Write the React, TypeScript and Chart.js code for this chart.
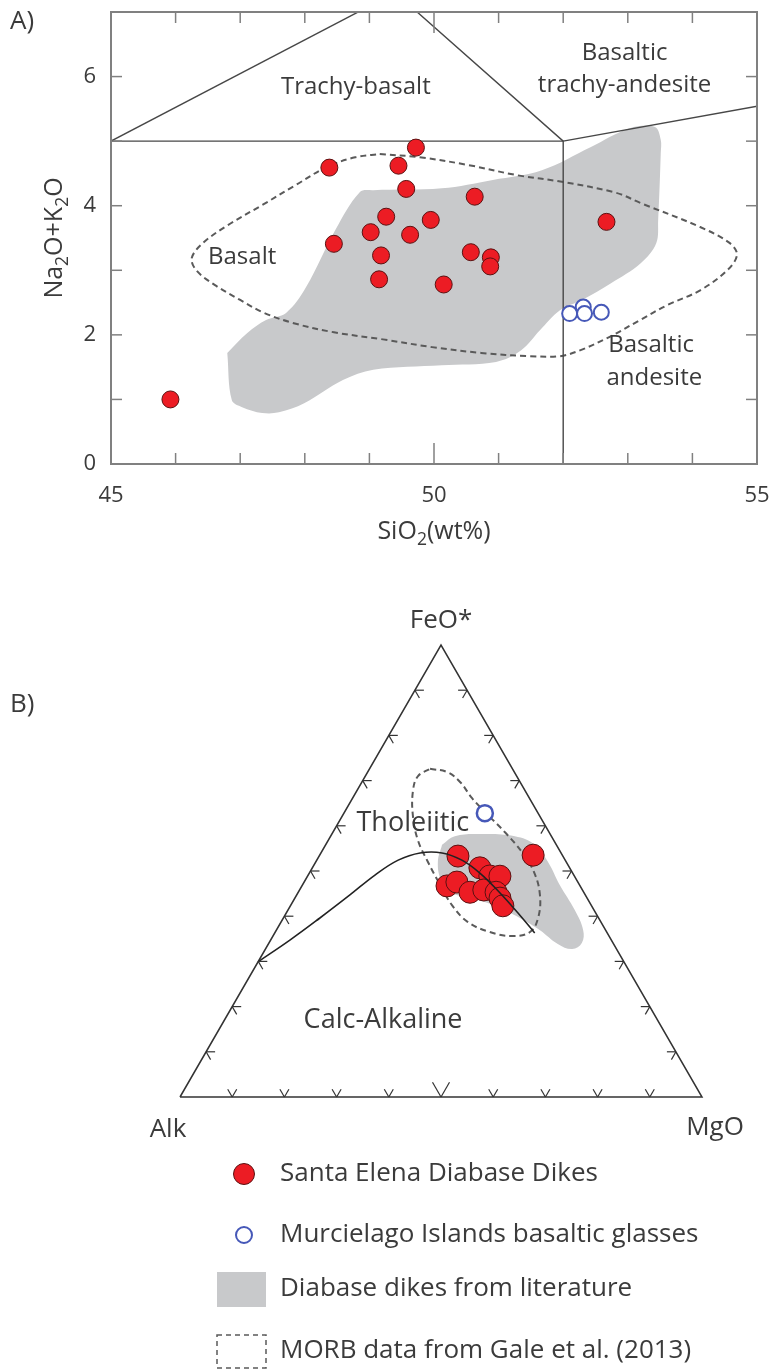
import { useEffect, useRef } from 'react';
import { Chart, registerables } from 'chart.js';

Chart.register(...registerables);

const FONT = '"Open Sans", "DejaVu Sans", Arial, sans-serif';
const INK = '#3b3b3b';
const FRAME = '#808080';
const LINE = '#474747';
const RED = '#ec1c24';
const RED_EDGE = '#5a1111';
const BLUE = '#4658b8';
const FIELD_GRAY = '#c8c9cb';
const DASH = '#5a5a5a';
const SQRT3_2 = Math.sqrt(3) / 2;

// ---------- A) TAS diagram ----------
const siO2Labels = [45, 50, 55];
const alkaliLabels = [0, 2, 4, 6];
const siO2TickMarks = [46, 47, 48, 49, 50, 51, 52, 53, 54];
const alkaliTickMarks = [1, 2, 3, 4, 5, 6];

const santaElenaSiO2 = [48.38, 49.72, 49.45, 49.57, 50.63, 49.26, 49.95, 49.02, 49.63, 48.45, 52.67, 50.57, 49.18, 50.88, 50.87, 49.15, 50.15, 45.92];
const santaElenaAlkali = [4.59, 4.9, 4.62, 4.26, 4.14, 3.83, 3.78, 3.59, 3.55, 3.41, 3.75, 3.28, 3.23, 3.2, 3.06, 2.86, 2.78, 1.0];

const murcielagoSiO2 = [52.1, 52.31, 52.33, 52.59];
const murcielagoAlkali = [2.33, 2.43, 2.33, 2.35];

const literatureSiO2 = [46.8, 46.87, 47.03, 47.34, 47.6, 47.99, 48.59, 49.06, 50.12, 50.96, 51.35, 51.64, 51.95, 52.29, 52.74, 53.2, 53.44, 53.47, 53.51, 53.51, 53.42, 53.03, 52.43, 51.67, 50.91, 50.12, 49.06, 48.85, 48.47, 48.02, 47.71, 47.4, 47.11];
const literatureAlkali = [1.72, 0.99, 0.88, 0.79, 0.8, 0.94, 1.3, 1.46, 1.53, 1.58, 1.76, 2.07, 2.38, 2.54, 2.8, 3.11, 3.42, 3.78, 4.81, 5.02, 5.22, 5.2, 4.91, 4.55, 4.4, 4.27, 4.24, 4.21, 3.62, 2.74, 2.34, 2.23, 2.03];

const morbSiO2 = [49.16, 49.78, 50.53, 51.3, 51.98, 52.82, 53.2, 54.12, 54.58, 54.69, 54.54, 54.12, 53.61, 53.19, 52.72, 52.26, 51.95, 51.49, 50.73, 49.97, 49.21, 48.45, 47.83, 47.37, 47.0, 46.61, 46.32, 46.25, 46.42, 46.81, 47.34, 47.86, 48.34, 48.78];
const morbAlkali = [4.8, 4.75, 4.63, 4.47, 4.37, 4.2, 4.04, 3.67, 3.42, 3.24, 3.0, 2.69, 2.46, 2.23, 1.97, 1.76, 1.67, 1.67, 1.72, 1.81, 1.93, 2.04, 2.18, 2.34, 2.54, 2.77, 3.0, 3.19, 3.42, 3.7, 4.01, 4.32, 4.6, 4.75];

const tasBoundaries = [
  { siO2: [45, 49.4], alkali: [5, 7.3] },
  { siO2: [49.4, 52, 52], alkali: [7.3, 5, 0] },
  { siO2: [45, 52], alkali: [5, 5] },
  { siO2: [52, 57], alkali: [5, 5.9] },
];

const tasFieldNames = [
  { text: 'Trachy-basalt', siO2: 48.79, alkali: 5.84 },
  { text: 'Basaltic', siO2: 52.95, alkali: 6.36 },
  { text: 'trachy-andesite', siO2: 52.95, alkali: 5.87 },
  { text: 'Basalt', siO2: 47.03, alkali: 3.2 },
  { text: 'Basaltic', siO2: 53.36, alkali: 1.84 },
  { text: 'andesite', siO2: 53.41, alkali: 1.33 },
];

// ---------- B) AFM ternary (Alk, FeO*, MgO) ----------
const afmSantaElenaAlk = [20.1, 5.6, 17.2, 16.2, 14.3, 25.5, 23.2, 21.8, 18.9, 16.8, 16.7, 17.0];
const afmSantaElenaFeO = [53.3, 53.5, 50.7, 48.9, 48.9, 46.7, 47.6, 45.3, 45.8, 45.3, 44.0, 42.3];
const afmSantaElenaMgO = [26.6, 40.9, 32.1, 34.9, 36.9, 27.8, 29.3, 32.9, 35.3, 37.9, 39.3, 40.7];

const afmMurcielagoAlk = [10.2];
const afmMurcielagoFeO = [62.8];
const afmMurcielagoMgO = [27.0];

const afmLiteratureAlk = [21.9, 18.5, 13.4, 7.0, 4.1, 3.5, 3.8, 3.7, 4.3, 6.0, 8.5, 10.7, 12.6, 15.1, 18.5, 22.4, 25.6, 26.0, 24.6];
const afmLiteratureFeO = [55.8, 57.7, 58.2, 57.7, 55.8, 52.0, 46.9, 41.4, 36.9, 34.1, 32.7, 33.9, 36.9, 39.6, 42.3, 44.0, 45.3, 48.0, 52.0];
const afmLiteratureMgO = [22.3, 23.8, 28.4, 35.3, 40.1, 44.5, 49.4, 55.0, 58.7, 60.0, 58.7, 55.5, 50.5, 45.3, 39.2, 33.6, 29.1, 26.0, 23.4];

const afmMorbAlk = [15.8, 12.9, 11.5, 11.0, 9.8, 8.4, 7.4, 7.3, 8.7, 11.6, 14.7, 18.6, 22.4, 25.5, 26.7, 26.7, 26.5, 26.0, 24.2, 21.4, 18.9];
const afmMorbFeO = [72.6, 71.9, 69.7, 66.1, 62.4, 58.4, 54.2, 49.8, 44.7, 39.6, 36.5, 35.6, 36.5, 38.7, 42.5, 46.9, 52.0, 56.9, 62.4, 67.9, 71.0];
const afmMorbMgO = [11.6, 15.2, 18.8, 22.9, 27.8, 33.3, 38.4, 42.9, 46.6, 48.8, 48.8, 45.8, 41.1, 35.8, 30.9, 26.4, 21.5, 17.1, 13.4, 10.7, 10.1];

// Irvine & Baragar tholeiitic / calc-alkaline divide
const divideAlk = [70.1, 61.6, 53.4, 45.1, 38.1, 32.0, 27.0, 22.8, 19.8, 17.8, 16.1, 14.9, 13.9];
const divideFeO = [29.9, 34.7, 39.6, 44.7, 49.1, 52.4, 54.0, 54.0, 52.4, 49.6, 45.1, 40.7, 36.3];
const divideMgO = [0.0, 3.7, 7.0, 10.2, 12.8, 15.6, 19.0, 23.2, 27.8, 32.7, 38.7, 44.4, 49.8];

const ternaryTicks = [10, 20, 30, 40, 50, 60, 70, 80, 90];

const afmFieldNames = [
  { text: 'Tholeiitic', alk: 25.1, feo: 60.6, mgo: 14.3 },
  { text: 'Calc-Alkaline', alk: 52.6, feo: 17.0, mgo: 30.4 },
];

const legendEntries = [
  'Santa Elena Diabase Dikes',
  'Murcielago Islands basaltic glasses',
  'Diabase dikes from literature',
  'MORB data from Gale et al. (2013)',
];

// ---------- helpers ----------
const pairs = (xs: number[], ys: number[]) => xs.map((x, i) => ({ x, y: ys[i] }));
const closeRing = <T,>(pts: T[]) => [...pts, pts[0]];

function ternaryPoint(a: number, f: number, m: number) {
  const s = a + f + m;
  return { x: (m + f / 2) / s, y: (f / s) * SQRT3_2 };
}
const ternarySeries = (A: number[], F: number[], M: number[]) => A.map((a, i) => ternaryPoint(a, F[i], M[i]));

type Part = [string, boolean];
function drawRich(ctx: CanvasRenderingContext2D, parts: Part[], x: number, y: number, size: number) {
  const sub = size * 0.7;
  const widths = parts.map(([t, s]) => {
    ctx.font = `${s ? sub : size}px ${FONT}`;
    return ctx.measureText(t).width;
  });
  const total = widths.reduce((p, w) => p + w, 0);
  let cx = x - total / 2;
  ctx.textAlign = 'left';
  ctx.textBaseline = 'alphabetic';
  parts.forEach(([t, s], i) => {
    ctx.font = `${s ? sub : size}px ${FONT}`;
    ctx.fillText(t, cx, s ? y + size * 0.24 : y);
    cx += widths[i];
  });
}

function seg(ctx: CanvasRenderingContext2D, x1: number, y1: number, x2: number, y2: number) {
  ctx.beginPath();
  ctx.moveTo(x1, y1);
  ctx.lineTo(x2, y2);
  ctx.stroke();
}

const tasDecor = {
  id: 'tasDecor',
  afterDatasetsDraw(chart: any) {
    const { ctx, chartArea: ca, scales } = chart;
    const { x, y } = scales;
    ctx.save();
    ctx.strokeStyle = FRAME;
    ctx.lineWidth = 1.5;
    siO2TickMarks.forEach((v) => {
      const px = x.getPixelForValue(v);
      const len = v === 50 ? 21 : 11;
      seg(ctx, px, ca.bottom, px, ca.bottom - len);
      seg(ctx, px, ca.top, px, ca.top + len);
    });
    alkaliTickMarks.forEach((v) => {
      const py = y.getPixelForValue(v);
      seg(ctx, ca.left, py, ca.left + 11, py);
      seg(ctx, ca.right, py, ca.right - 11, py);
    });
    ctx.lineWidth = 2;
    ctx.strokeRect(ca.left, ca.top, ca.width, ca.height);

    ctx.fillStyle = INK;
    ctx.textAlign = 'center';
    ctx.textBaseline = 'middle';
    ctx.font = `24px ${FONT}`;
    tasFieldNames.forEach((l) => {
      ctx.fillText(l.text, x.getPixelForValue(l.siO2), y.getPixelForValue(l.alkali));
    });

    // axis titles
    drawRich(ctx, [['SiO', false], ['2', true], ['(wt%)', false]], (ca.left + ca.right) / 2, 539, 25);
    ctx.save();
    ctx.translate(62, (ca.top + ca.bottom) / 2);
    ctx.rotate(-Math.PI / 2);
    drawRich(ctx, [['Na', false], ['2', true], ['O+K', false], ['2', true], ['O', false]], 0, 0, 25);
    ctx.restore();

    ctx.font = `26px ${FONT}`;
    ctx.textAlign = 'left';
    ctx.textBaseline = 'middle';
    ctx.fillText('A)', 10, 22);
    ctx.restore();
  },
};

const afmDecor = {
  id: 'afmDecor',
  afterDatasetsDraw(chart: any) {
    const { ctx, scales } = chart;
    const { x, y } = scales;
    const px = (p: { x: number; y: number }) => [x.getPixelForValue(p.x), y.getPixelForValue(p.y)];
    ctx.save();
    ctx.strokeStyle = '#333';
    ctx.lineWidth = 1.2;
    const sides = [
      { a: [100, 0, 0], b: [0, 100, 0], arms: [[1, 0], [0.5, 0.866]] },
      { a: [0, 0, 100], b: [0, 100, 0], arms: [[-1, 0], [-0.5, 0.866]] },
      { a: [100, 0, 0], b: [0, 0, 100], arms: [[0.5, -0.866], [-0.5, -0.866]] },
    ];
    sides.forEach((s, si) => {
      ternaryTicks.forEach((t) => {
        const f = t / 100;
        const p = ternaryPoint(
          s.a[0] * (1 - f) + s.b[0] * f,
          s.a[1] * (1 - f) + s.b[1] * f,
          s.a[2] * (1 - f) + s.b[2] * f,
        );
        const [cx, cy] = px(p);
        const len = si === 2 && t === 50 ? 17 : 9;
        s.arms.forEach(([dx, dy]) => seg(ctx, cx, cy, cx + dx * len, cy + dy * len));
      });
    });

    ctx.fillStyle = INK;
    ctx.textAlign = 'center';
    ctx.textBaseline = 'middle';
    ctx.font = `27px ${FONT}`;
    afmFieldNames.forEach((l) => {
      const [lx, ly] = px(ternaryPoint(l.alk, l.feo, l.mgo));
      ctx.fillText(l.text, lx, ly);
    });
    ctx.font = `26px ${FONT}`;
    const [fx, fy] = px(ternaryPoint(0, 100, 0));
    ctx.fillText('FeO*', fx, fy - 24);
    const [ax, ay] = px(ternaryPoint(100, 0, 0));
    ctx.fillText('Alk', ax - 12, ay + 33);
    const [mx, my] = px(ternaryPoint(0, 0, 100));
    ctx.fillText('MgO', mx + 13, my + 31);

    ctx.textAlign = 'left';
    ctx.fillText('B)', 10, 145);

    // legend
    const rows = [614, 675, 729, 791];
    const gx = 244;
    ctx.beginPath();
    ctx.arc(gx, rows[0], 10.5, 0, Math.PI * 2);
    ctx.fillStyle = RED;
    ctx.fill();
    ctx.lineWidth = 1;
    ctx.strokeStyle = RED_EDGE;
    ctx.stroke();
    ctx.beginPath();
    ctx.arc(gx, rows[1], 8, 0, Math.PI * 2);
    ctx.fillStyle = '#fff';
    ctx.fill();
    ctx.lineWidth = 2;
    ctx.strokeStyle = BLUE;
    ctx.stroke();
    ctx.fillStyle = FIELD_GRAY;
    ctx.fillRect(217, rows[2] - 17, 49, 35);
    ctx.setLineDash([5, 4]);
    ctx.lineWidth = 1.5;
    ctx.strokeStyle = DASH;
    ctx.strokeRect(217, rows[3] - 16, 49, 33);
    ctx.setLineDash([]);
    ctx.fillStyle = INK;
    ctx.font = `26px ${FONT}`;
    ctx.textAlign = 'left';
    ctx.textBaseline = 'middle';
    legendEntries.forEach((t, i) => ctx.fillText(t, 280, rows[i]));
    ctx.restore();
  },
};

const lineBase = { type: 'line' as const, pointRadius: 0, fill: false };

function tasConfig(): any {
  return {
    type: 'scatter',
    data: {
      datasets: [
        {
          ...lineBase,
          label: 'Diabase dikes from literature',
          data: closeRing(pairs(literatureSiO2, literatureAlkali)),
          fill: 'shape',
          backgroundColor: FIELD_GRAY,
          borderWidth: 0,
          borderColor: 'rgba(0,0,0,0)',
          tension: 0.35,
          order: 5,
        },
        {
          ...lineBase,
          label: 'MORB data from Gale et al. (2013)',
          data: closeRing(pairs(morbSiO2, morbAlkali)),
          borderColor: DASH,
          borderWidth: 2,
          borderDash: [6, 4],
          tension: 0.35,
          order: 4,
        },
        ...tasBoundaries.map((b) => ({
          ...lineBase,
          data: pairs(b.siO2, b.alkali),
          borderColor: LINE,
          borderWidth: 1.4,
          order: 3,
        })),
        {
          type: 'scatter',
          label: 'Murcielago Islands basaltic glasses',
          data: pairs(murcielagoSiO2, murcielagoAlkali),
          pointRadius: 7.5,
          pointBackgroundColor: '#ffffff',
          pointBorderColor: BLUE,
          pointBorderWidth: 2,
          order: 1,
        },
        {
          type: 'scatter',
          label: 'Santa Elena Diabase Dikes',
          data: pairs(santaElenaSiO2, santaElenaAlkali),
          pointRadius: 8.5,
          pointBackgroundColor: RED,
          pointBorderColor: RED_EDGE,
          pointBorderWidth: 1,
          order: 0,
        },
      ],
    },
    options: {
      responsive: false,
      animation: false,
      devicePixelRatio: 1,
      events: [],
      layout: { padding: { left: 0, top: 12, right: 17, bottom: 0 } },
      plugins: { legend: { display: false }, tooltip: { enabled: false } },
      scales: {
        x: {
          type: 'linear',
          min: 45,
          max: 55,
          afterBuildTicks: (ax: any) => {
            ax.ticks = siO2Labels.map((value) => ({ value }));
          },
          afterFit: (ax: any) => {
            ax.height = 96;
            ax.paddingLeft = 0;
            ax.paddingRight = 0;
          },
          grid: { display: false, drawTicks: false },
          border: { display: false },
          ticks: { font: { family: FONT, size: 22 }, color: INK, padding: 19, maxRotation: 0, autoSkip: false },
        },
        y: {
          type: 'linear',
          min: 0,
          max: 7,
          afterBuildTicks: (ax: any) => {
            ax.ticks = alkaliLabels.map((value) => ({ value }));
          },
          afterFit: (ax: any) => {
            ax.width = 111;
            ax.paddingTop = 0;
            ax.paddingBottom = 0;
          },
          grid: { display: false, drawTicks: false },
          border: { display: false },
          ticks: { font: { family: FONT, size: 22 }, color: INK, padding: 15, autoSkip: false },
        },
      },
    },
    plugins: [tasDecor],
  };
}

function afmConfig(): any {
  return {
    type: 'scatter',
    data: {
      datasets: [
        {
          ...lineBase,
          label: 'Diabase dikes from literature',
          data: closeRing(ternarySeries(afmLiteratureAlk, afmLiteratureFeO, afmLiteratureMgO)),
          fill: 'shape',
          backgroundColor: FIELD_GRAY,
          borderWidth: 0,
          borderColor: 'rgba(0,0,0,0)',
          tension: 0.4,
          order: 6,
        },
        {
          ...lineBase,
          label: 'MORB data from Gale et al. (2013)',
          data: closeRing(ternarySeries(afmMorbAlk, afmMorbFeO, afmMorbMgO)),
          borderColor: DASH,
          borderWidth: 2,
          borderDash: [6, 4],
          tension: 0.4,
          order: 5,
        },
        {
          ...lineBase,
          data: closeRing(ternarySeries([100, 0, 0], [0, 0, 100], [0, 100, 0])),
          borderColor: '#333',
          borderWidth: 1.5,
          clip: false,
          order: 4,
        },
        {
          type: 'scatter',
          label: 'Murcielago Islands basaltic glasses',
          data: ternarySeries(afmMurcielagoAlk, afmMurcielagoFeO, afmMurcielagoMgO),
          pointRadius: 8,
          pointBackgroundColor: '#ffffff',
          pointBorderColor: BLUE,
          pointBorderWidth: 2.5,
          order: 2,
        },
        {
          type: 'scatter',
          label: 'Santa Elena Diabase Dikes',
          data: ternarySeries(afmSantaElenaAlk, afmSantaElenaFeO, afmSantaElenaMgO),
          pointRadius: 11,
          pointBackgroundColor: RED,
          pointBorderColor: RED_EDGE,
          pointBorderWidth: 1,
          order: 1,
        },
        {
          ...lineBase,
          data: ternarySeries(divideAlk, divideFeO, divideMgO),
          borderColor: '#222',
          borderWidth: 1.6,
          tension: 0.4,
          clip: false,
          order: 0,
        },
      ],
    },
    options: {
      responsive: false,
      animation: false,
      devicePixelRatio: 1,
      events: [],
      layout: { padding: { left: 180, top: 85, right: 72, bottom: 272 } },
      plugins: { legend: { display: false }, tooltip: { enabled: false } },
      scales: {
        x: { type: 'linear', min: 0, max: 1, display: false },
        y: { type: 'linear', min: 0, max: SQRT3_2, display: false },
      },
    },
    plugins: [afmDecor],
  };
}

export default function App() {
  const tasRef = useRef<HTMLCanvasElement>(null);
  const afmRef = useRef<HTMLCanvasElement>(null);

  useEffect(() => {
    const tas = new Chart(tasRef.current as HTMLCanvasElement, tasConfig());
    const afm = new Chart(afmRef.current as HTMLCanvasElement, afmConfig());
    return () => {
      tas.destroy();
      afm.destroy();
    };
  }, []);

  return (
    <div style={{ position: 'absolute', left: 0, top: 0, width: 774, height: 1369, background: '#fff' }}>
      <canvas ref={tasRef} width={774} height={560} style={{ position: 'absolute', left: 0, top: 0 }} />
      <canvas ref={afmRef} width={774} height={809} style={{ position: 'absolute', left: 0, top: 560 }} />
    </div>
  );
}
